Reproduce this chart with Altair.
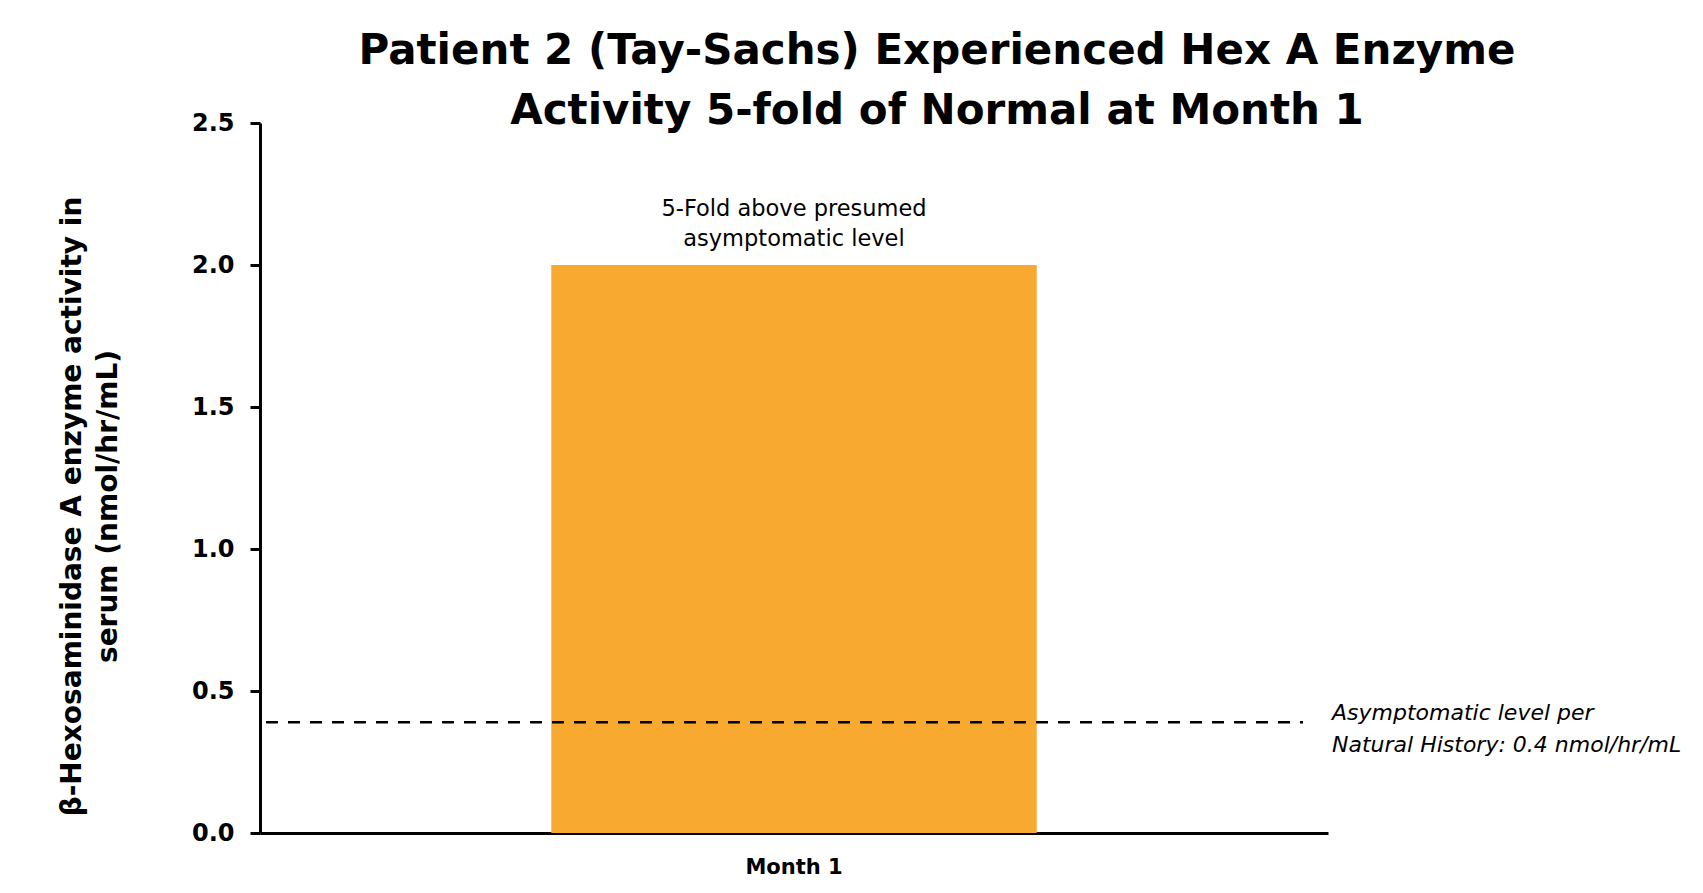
import altair as alt
import pandas as pd

# ---- data ----
categories = ["Month 1"]
values = [2.0]
bar_labels = ["5-Fold above presumed\nasymptomatic level"]
threshold = [0.39]
threshold_labels = ["Asymptomatic level per\nNatural History: 0.4 nmol/hr/mL"]
y_ticks = [0.0, 0.5, 1.0, 1.5, 2.0, 2.5]

title_lines = ["Patient 2 (Tay-Sachs) Experienced Hex A Enzyme",
               "Activity 5-fold of Normal at Month 1"]
y_title = ["\u03b2-Hexosaminidase A enzyme activity in", "serum (nmol/hr/mL)"]

bars_df = pd.DataFrame({"month": categories, "value": values, "label": bar_labels})
thr_df = pd.DataFrame({"thr": threshold, "label": threshold_labels})

FONT = "DejaVu Sans"

x_enc = alt.X("month:N",
              scale=alt.Scale(domain=categories, paddingInner=0.375, paddingOuter=0.375),
              axis=alt.Axis(title=None, labelAngle=0, ticks=False, labelFont=FONT,
                            labelFontSize=21, labelFontWeight="bold", labelColor="black",
                            labelPadding=23, domainColor="black", domainWidth=3))
y_enc = alt.Y("value:Q",
              scale=alt.Scale(domain=[0, 2.5], nice=False, zero=True),
              axis=alt.Axis(title=y_title, values=y_ticks, format=".1f", grid=False,
                            labelFont=FONT, labelFontSize=24, labelFontWeight="bold",
                            labelColor="black", labelPadding=16, tickSize=10,
                            tickColor="black", tickWidth=3, domainColor="black",
                            domainWidth=3, titleFont=FONT, titleFontSize=28,
                            titleFontWeight="bold", titleColor="black",
                            titleLineHeight=36, titleAngle=270, titleAlign="center",
                            titleBaseline="middle", titleX=-188, titleY=383))

bars = alt.Chart(bars_df).mark_bar(color="#F8A92F").encode(x=x_enc, y=y_enc)

bar_text = alt.Chart(bars_df).mark_text(
    font=FONT, fontSize=22.5, color="black", baseline="bottom", dy=-44,
    lineBreak="\n", lineHeight=30
).encode(x="month:N", y="value:Q", text="label:N")

rule = alt.Chart(thr_df).mark_rule(
    color="black", strokeWidth=2.5, strokeDash=[12, 10]
).encode(y="thr:Q", x=alt.value(6), x2=alt.value(1043))

thr_text = alt.Chart(thr_df).mark_text(
    font=FONT, fontSize=22, fontStyle="italic", color="black", align="left",
    baseline="middle", dy=-9, lineBreak="\n", lineHeight=32
).encode(y="thr:Q", x=alt.value(1072), text="label:N")

chart = alt.layer(bars, bar_text, rule, thr_text).properties(
    width=1068, height=710,
    background="white",
    title=alt.TitleParams(text=title_lines, font=FONT, fontSize=42, fontWeight="bold",
                          color="black", anchor="middle", frame="group",
                          baseline="alphabetic", lineHeight=60, offset=0, dx=143, dy=55),
    autosize=alt.AutoSizeParams(type="none"),
    padding={"left": 252, "top": 115, "right": 367, "bottom": 52},
).configure_view(stroke=None)

chart.save("out.html", embed_options={"renderer": "svg", "actions": False})
